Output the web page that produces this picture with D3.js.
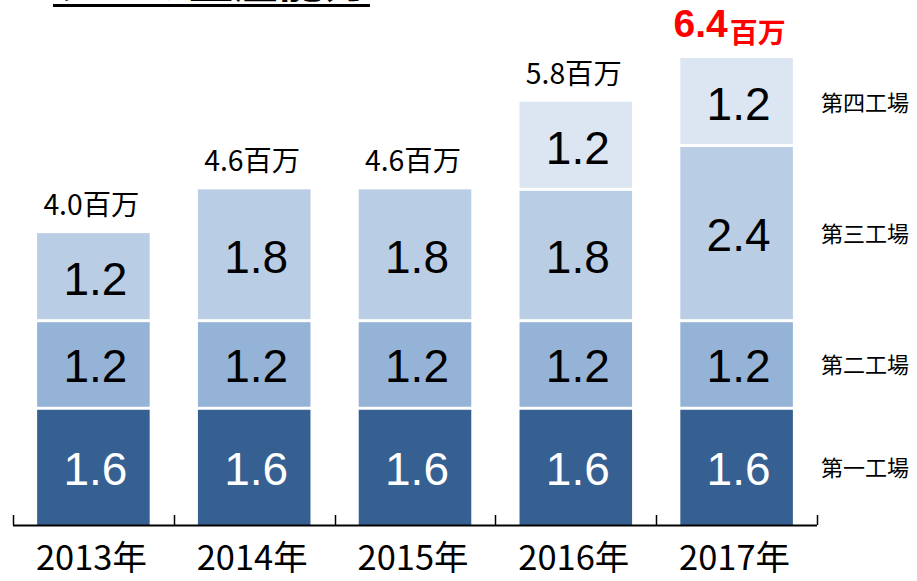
<!DOCTYPE html>
<html>
<head>
<meta charset="utf-8">
<script src="https://cdn.jsdelivr.net/npm/d3@7"></script>
<style>
  html, body { margin: 0; padding: 0; background: #fff; }
  svg { display: block; }
</style>
</head>
<body>
<div id="chart"></div>
<script>
// data
var years = ['2013年', '2014年', '2015年', '2016年', '2017年'];
var plants = ['第一工場', '第二工場', '第三工場', '第四工場'];
var plant1 = [1.6, 1.6, 1.6, 1.6, 1.6];
var plant2 = [1.2, 1.2, 1.2, 1.2, 1.2];
var plant3 = [1.2, 1.8, 1.8, 1.8, 2.4];
var plant4 = [0, 0, 0, 1.2, 1.2];
var totals = ['4.0', '4.6', '4.6', '5.8', '6.4'];
var plantColors = ['#376092', '#95B3D7', '#B9CDE5', '#DCE6F2'];

var width = 917, height = 581;
var axisY = 525;
var jp = "'Noto Sans CJK JP', 'Noto Sans', sans-serif";

var svg = d3.select('#chart').append('svg')
    .attr('width', width)
    .attr('height', height);

// rows for the stack
var rows = years.map(function (yr, i) {
    return { year: yr, p0: plant1[i], p1: plant2[i], p2: plant3[i], p3: plant4[i], total: totals[i] };
});
var keys = ['p0', 'p1', 'p2', 'p3'];
var series = d3.stack().keys(keys)(rows);

function rowSum(r) {
    return d3.sum(keys, function (k) { return r[k]; });
}

var x = d3.scaleBand()
    .domain(years)
    .range([13, 817])
    .paddingInner(0.3)
    .paddingOuter(0.15);

var y = d3.scaleLinear()
    .domain([0, 6.4])
    .range([axisY, 58]);

// title (mostly cut off at the top edge)
svg.append('text')
    .attr('x', 54)
    .attr('y', -2)
    .attr('textLength', 314)
    .attr('lengthAdjust', 'spacingAndGlyphs')
    .style('font-family', jp)
    .style('font-size', '44px')
    .style('font-weight', 'bold')
    .text('タイの生産能力');
svg.append('line')
    .attr('x1', 53).attr('x2', 370)
    .attr('y1', 5.5).attr('y2', 5.5)
    .attr('stroke', '#000')
    .attr('stroke-width', 3);

// bars
var gap = 1.5;
var layers = svg.selectAll('g.layer')
    .data(series)
    .enter().append('g')
    .attr('class', 'layer')
    .attr('fill', function (d, i) { return plantColors[i]; });

layers.selectAll('rect')
    .data(function (d) { return d.filter(function (p) { return p[1] - p[0] > 0; }); })
    .enter().append('rect')
    .attr('x', function (p) { return x(p.data.year); })
    .attr('width', x.bandwidth())
    .attr('y', function (p) {
        var top = y(p[1]);
        return p[1] < rowSum(p.data) ? top + gap : top;
    })
    .attr('height', function (p) {
        var t = p[1] < rowSum(p.data) ? y(p[1]) + gap : y(p[1]);
        var b = p[0] > 0 ? y(p[0]) - gap : y(p[0]);
        return b - t;
    });

// values inside segments
layers.each(function (s, si) {
    d3.select(this).selectAll('text')
        .data(s.filter(function (p) { return p[1] - p[0] > 0; }))
        .enter().append('text')
        .attr('x', function (p) { return x(p.data.year) + x.bandwidth() / 2 + 2; })
        .attr('y', function (p) { return (y(p[0]) + y(p[1])) / 2 + 18; })
        .attr('text-anchor', 'middle')
        .style('font-family', "'Liberation Sans', Arial, sans-serif")
        .style('font-size', '46px')
        .attr('fill', si === 0 ? '#fff' : '#000')
        .text(function (p) { return d3.format('.1f')(p[1] - p[0]); });
});

// totals above bars
var totalG = svg.append('g');
rows.forEach(function (r, i) {
    var top = y(rowSum(r));
    var cx = x(r.year) + x.bandwidth() / 2;
    if (i === rows.length - 1) {
        var t = totalG.append('text')
            .attr('x', cx - 7)
            .attr('y', 37)
            .attr('text-anchor', 'middle')
            .attr('fill', '#ff0000')
            .style('font-weight', 'bold');
        t.append('tspan')
            .style('font-family', "'Liberation Sans', Arial, sans-serif")
            .style('font-size', '39px')
            .text(r.total);
        t.append('tspan')
            .attr('dx', 2)
            .attr('dy', 6)
            .style('font-family', jp)
            .style('font-size', '28px')
            .text('百万');
    } else {
        totalG.append('text')
            .attr('x', cx - 2)
            .attr('y', top - 18)
            .attr('text-anchor', 'middle')
            .attr('textLength', 96)
            .attr('lengthAdjust', 'spacingAndGlyphs')
            .style('font-family', jp)
            .style('font-size', '28px')
            .attr('fill', '#000')
            .text(r.total + '百万');
    }
});

// x axis: baseline with upward ticks at band edges
var axis = svg.append('g').attr('stroke', '#000');
axis.append('line')
    .attr('x1', x.range()[0]).attr('x2', x.range()[1])
    .attr('y1', axisY + 0.5).attr('y2', axisY + 0.5)
    .attr('stroke-width', 2);
var edges = years.map(function (yr) { return x(yr) - x.step() * x.paddingInner() / 2; });
edges.push(x.range()[1]);
axis.selectAll('line.tick')
    .data(edges)
    .enter().append('line')
    .attr('class', 'tick')
    .attr('x1', function (d) { return Math.round(d) + 0.5; })
    .attr('x2', function (d) { return Math.round(d) + 0.5; })
    .attr('y1', axisY - 10)
    .attr('y2', axisY)
    .attr('stroke-width', 1.5);

svg.append('g').selectAll('text')
    .data(years)
    .enter().append('text')
    .attr('x', function (d) { return x(d) + x.bandwidth() / 2 - 2; })
    .attr('y', 570)
    .attr('text-anchor', 'middle')
    .attr('textLength', 111)
    .attr('lengthAdjust', 'spacingAndGlyphs')
    .style('font-family', jp)
    .style('font-size', '34px')
    .text(function (d) { return d; });

// plant labels to the right of the last bar
var last = series.map(function (s) { return s[s.length - 1]; });
svg.append('g').selectAll('text')
    .data(last)
    .enter().append('text')
    .attr('x', 821)
    .attr('y', function (p) { return (y(p[0]) + y(p[1])) / 2 + 9; })
    .style('font-family', jp)
    .style('font-size', '22px')
    .attr('fill', '#000')
    .text(function (p, i) { return plants[i]; });
</script>
</body>
</html>
